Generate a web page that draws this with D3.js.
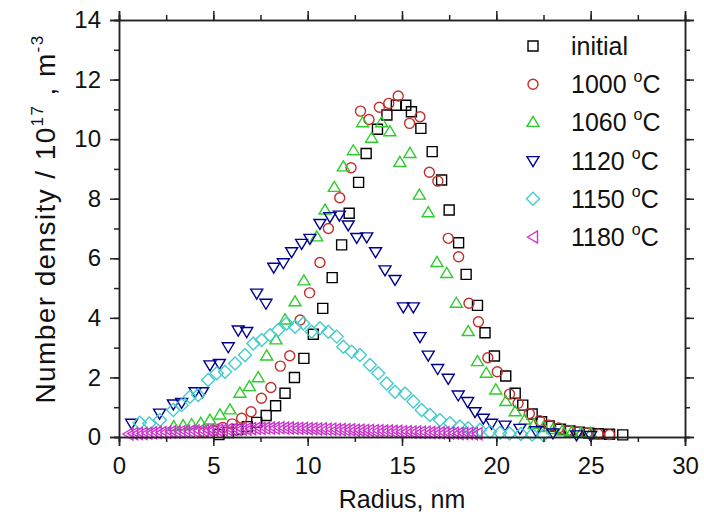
<!DOCTYPE html>
<html><head><meta charset="utf-8">
<script src="https://cdn.jsdelivr.net/npm/d3@7"></script>
<style>body{margin:0;background:#fff} text{font-family:"Liberation Sans",Arial,sans-serif;fill:#111}</style>
</head><body>
<svg id="c" width="704" height="529"></svg>
<script>
// ---- data ----
const xTicks = [0, 5, 10, 15, 20, 25, 30];
const yTicks = [0, 2, 4, 6, 8, 10, 12, 14];
const legendLabels = ["initial", "1000", "1060", "1120", "1150", "1180"];

const initialX = [5.3,5.8,6.3,6.8,7.3,7.8,8.3,8.8,9.3,9.8,10.3,10.8,11.3,11.8,12.2,12.7,13.1,13.7,14.2,14.7,15.2,15.5,16.0,16.6,17.1,17.5,18.0,18.4,19.0,19.4,19.9,20.5,21.0,21.4,21.9,22.4,22.8,23.4,23.9,24.4,24.9,25.4,26.0,26.7];
const initialY = [0.08,0.15,0.25,0.35,0.49,0.72,1.05,1.47,2.0,2.64,3.45,4.32,5.35,6.45,7.51,8.55,9.52,10.33,10.81,11.14,11.14,10.92,10.36,9.58,8.63,7.62,6.52,5.46,4.42,3.5,2.72,2.05,1.47,1.07,0.77,0.51,0.37,0.26,0.2,0.16,0.13,0.11,0.09,0.07];

const t1000X = [4.5,5.0,5.5,6.0,6.5,7.0,7.55,8.05,8.55,9.05,9.6,10.1,10.65,11.1,11.7,12.3,12.8,13.25,13.8,14.3,14.8,15.4,15.95,16.45,16.9,17.45,18.0,18.55,19.05,19.55,20.05,20.7,21.15,21.75,22.3,22.8,23.3,23.8,24.3,24.8,25.4,26.0];
const t1000Y = [0.15,0.22,0.32,0.44,0.63,0.85,1.3,1.66,2.38,2.73,3.93,4.84,5.86,7.0,8.03,9.04,10.94,10.66,11.07,11.2,11.45,10.53,10.75,8.89,8.59,6.67,6.05,4.49,3.87,2.66,2.19,1.44,1.13,0.79,0.55,0.4,0.3,0.22,0.17,0.13,0.1,0.08];

const t1060X = [2.9,3.4,3.85,4.33,4.82,5.35,5.88,6.41,6.91,7.38,7.83,8.32,8.8,9.33,9.8,10.48,10.92,11.41,11.89,12.42,12.91,13.39,13.92,14.36,14.89,15.42,15.92,16.39,16.85,17.37,17.88,18.51,19.0,19.47,19.97,20.5,21.0,21.5,22.0,22.5,23.0,23.5,24.0,24.5,25.0];
const t1060Y = [0.35,0.38,0.42,0.46,0.57,0.74,0.91,1.47,1.69,1.99,2.72,3.26,3.93,4.54,5.24,6.72,7.62,8.38,9.07,9.61,10.55,10.03,10.55,10.25,9.22,9.52,8.12,7.53,5.86,5.49,4.49,3.54,2.53,2.14,1.58,1.19,0.85,0.57,0.42,0.32,0.25,0.2,0.17,0.14,0.12];

const t1120X = [0.67,2.15,2.88,3.32,4.03,4.43,4.82,5.32,5.79,6.32,6.77,7.3,7.79,8.2,8.71,9.15,9.68,10.12,10.65,11.18,11.68,12.15,12.6,13.13,13.6,14.1,14.63,15.07,15.6,15.95,16.39,16.89,17.45,17.98,18.48,18.87,19.31,19.75,20.46,21.25,22.1,23.0,24.25,25.0];
const t1120Y = [0.46,0.8,1.11,1.16,1.52,1.52,2.42,2.47,3.03,3.59,3.54,4.83,4.49,5.7,5.85,6.22,6.5,6.67,7.17,7.4,7.45,7.12,6.7,6.72,6.22,5.61,5.29,4.37,4.37,3.37,2.75,2.3,1.97,1.41,1.19,0.85,0.63,0.46,0.4,0.29,0.21,0.14,0.07,0.05];

const t1150X = [1.1,1.6,2.17,2.88,3.32,3.76,4.2,4.73,5.18,5.62,6.15,6.68,7.12,7.56,8.0,8.44,8.89,9.33,9.77,10.21,10.65,11.09,11.54,11.89,12.33,12.77,13.3,13.74,14.19,14.63,15.16,15.6,16.04,16.48,17.01,17.54,18.07,18.51,19.13,19.66,20.2,20.7,21.3,21.9,22.5];
const t1150Y = [0.48,0.45,0.57,0.91,1.07,1.35,1.41,1.91,2.14,2.19,2.47,2.75,3.14,3.26,3.42,3.59,3.81,3.7,3.81,3.53,3.65,3.53,3.37,3.03,2.86,2.75,2.42,2.14,1.8,1.52,1.46,1.19,0.91,0.74,0.57,0.46,0.35,0.29,0.24,0.18,0.14,0.12,0.1,0.08,0.06];

const t1180X = [0.5,0.75,1,1.25,1.5,1.75,2,2.25,2.5,2.75,3,3.25,3.5,3.75,4,4.25,4.5,4.75,5,5.25,5.5,5.75,6,6.25,6.5,6.75,7,7.25,7.5,7.75,8,8.25,8.5,8.75,9,9.25,9.5,9.75,10,10.25,10.5,10.75,11,11.25,11.5,11.75,12,12.25,12.5,12.75,13,13.25,13.5,13.75,14,14.25,14.5,14.75,15,15.25,15.5,15.75,16,16.25,16.5,16.75,17,17.25,17.5,17.75,18,18.25,18.5,18.75,19];
const t1180Y = [0.10,0.11,0.12,0.12,0.13,0.14,0.15,0.15,0.16,0.17,0.17,0.18,0.19,0.19,0.20,0.21,0.21,0.22,0.23,0.23,0.24,0.25,0.25,0.26,0.27,0.27,0.28,0.29,0.29,0.30,0.30,0.30,0.31,0.30,0.30,0.29,0.29,0.29,0.28,0.28,0.27,0.27,0.26,0.26,0.25,0.25,0.24,0.24,0.23,0.23,0.22,0.22,0.21,0.21,0.20,0.20,0.19,0.19,0.18,0.18,0.17,0.17,0.16,0.16,0.15,0.15,0.14,0.14,0.13,0.13,0.12,0.12,0.12,0.11,0.11];

// ---- styles ----
const series = [
  {x: initialX, y: initialY, color: "#000000", shape: "square"},
  {x: t1000X, y: t1000Y, color: "#c0302a", shape: "circle"},
  {x: t1060X, y: t1060Y, color: "#2ccc2c", shape: "up"},
  {x: t1120X, y: t1120Y, color: "#000090", shape: "down"},
  {x: t1150X, y: t1150Y, color: "#44cccc", shape: "diamond"},
  {x: t1180X, y: t1180Y, color: "#cc33cc", shape: "left"}
];

const shapes = {
  square: "M-5,-5h10v10h-10Z",
  circle: "M-5,0a5,5 0 1,0 10,0a5,5 0 1,0 -10,0Z",
  up: "M0,-6L6,4L-6,4Z",
  down: "M0,6L6,-4L-6,-4Z",
  diamond: "M0,-6.5L6.5,0L0,6.5L-6.5,0Z",
  left: "M-5.5,0L4.5,-6L4.5,6Z"
};

const svg = d3.select("#c");
const L = 119, R = 685, T = 20, B = 437;
const x = d3.scaleLinear().domain([0, 30]).range([L, R]);
const y = d3.scaleLinear().domain([0, 14]).range([B, T]);

// data
series.forEach(s => {
  svg.append("g").selectAll("path").data(s.x.map((v, i) => [v, s.y[i]])).join("path")
    .attr("d", shapes[s.shape])
    .attr("transform", d => `translate(${x(d[0])},${y(d[1])})`)
    .attr("fill", "none").attr("stroke", s.color).attr("stroke-width", 1.4);
});

// axes
const axColor = "#222";
const xMinor = d3.range(0, 30.01, 2.5);
const yMinor = d3.range(0, 14.01, 1);
function styleAxis(g) {
  g.selectAll("path.domain").attr("stroke", axColor).attr("stroke-width", 1.5);
  g.selectAll(".tick line").attr("stroke", axColor).attr("stroke-width", 1.5);
  g.selectAll("text").style("font-size", "24px").attr("fill", "#111");
}
// minor ticks
svg.append("g").attr("transform", `translate(0,${B})`).call(d3.axisBottom(x).tickValues(xMinor).tickSize(5).tickFormat("")).call(styleAxis);
svg.append("g").attr("transform", `translate(0,${T})`).call(d3.axisTop(x).tickValues(xMinor).tickSize(5).tickFormat("")).call(styleAxis);
svg.append("g").attr("transform", `translate(${L},0)`).call(d3.axisLeft(y).tickValues(yMinor).tickSize(5).tickFormat("")).call(styleAxis);
svg.append("g").attr("transform", `translate(${R},0)`).call(d3.axisRight(y).tickValues(yMinor).tickSize(5).tickFormat("")).call(styleAxis);
// major ticks
svg.append("g").attr("transform", `translate(0,${B})`).call(d3.axisBottom(x).tickValues(xTicks).tickSize(9).tickPadding(11).tickFormat(d3.format("d"))).call(styleAxis);
svg.append("g").attr("transform", `translate(0,${T})`).call(d3.axisTop(x).tickValues(xTicks).tickSize(9).tickFormat("")).call(styleAxis);
svg.append("g").attr("transform", `translate(${L},0)`).call(d3.axisLeft(y).tickValues(yTicks).tickSize(9).tickPadding(9).tickFormat(d3.format("d"))).call(styleAxis);
svg.append("g").attr("transform", `translate(${R},0)`).call(d3.axisRight(y).tickValues(yTicks).tickSize(9).tickFormat("")).call(styleAxis);

// axis titles
svg.append("text").attr("x", (L + R) / 2).attr("y", 508).attr("text-anchor", "middle")
  .style("font-size", "25px").text("Radius, nm");
const yt = svg.append("text").attr("transform", "translate(55,219) rotate(-90)").attr("text-anchor", "middle")
  .style("font-size", "28px").style("letter-spacing", "1.4px");
yt.append("tspan").text("Number density / 10");
yt.append("tspan").attr("dy", -12).style("font-size", "17px").text("17");
yt.append("tspan").attr("dy", 12).text(" , m");
yt.append("tspan").attr("dy", -12).style("font-size", "17px").text("-3");

// legend
const lg = svg.append("g");
legendLabels.forEach((lab, i) => {
  const cy = 46 + i * 38.2;
  lg.append("path").attr("d", shapes[series[i].shape]).attr("transform", `translate(533,${cy})`)
    .attr("fill", "none").attr("stroke", series[i].color).attr("stroke-width", 1.4);
  const t = lg.append("text").attr("x", 571).attr("y", cy + 9).style("font-size", "25px");
  t.append("tspan").text(lab);
  if (i > 0) {
    t.append("tspan").text(" ");
    t.append("tspan").attr("dy", -11).style("font-size", "16px").text("o");
    t.append("tspan").attr("dy", 11).text("C");
  }
});
</script>
</body></html>
